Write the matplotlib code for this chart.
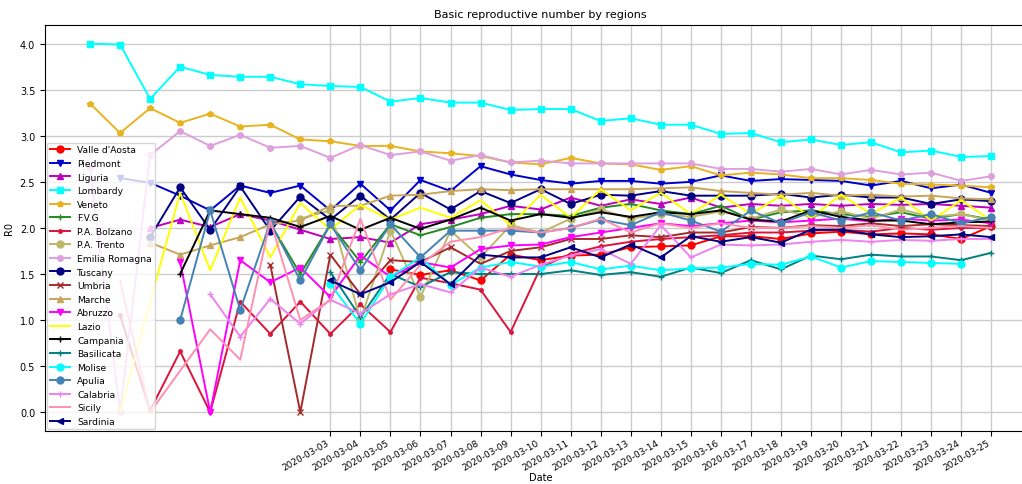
import numpy as np
import matplotlib.pyplot as plt

nan = np.nan

# Dates on the axis (data starts 2020-02-24, ticks only from 03-03)
tick_labels = ['2020-03-%02d' % d for d in range(3, 26)]
n_days = 31

valle = [nan]*10 + [1.55, 1.49, 1.54, 1.43, 1.71, 1.65, 1.70, 1.71, 1.79, 1.80, 1.81, 1.91, 1.91, 1.88, 1.94, 1.96, 1.93, 1.94, 1.93, 1.88, 2.02]
piedmont = [nan, 2.54, 2.49, 2.35, 2.19, 2.46, 2.38, 2.46, 2.19, 2.48, 2.19, 2.52, 2.40, 2.67, 2.58, 2.52, 2.48, 2.51, 2.51, 2.48, 2.50, 2.57, 2.51, 2.53, 2.52, 2.51, 2.46, 2.51, 2.43, 2.47, 2.38]
liguria = [nan, nan, 2.00, 2.09, 2.01, 2.15, 2.08, 1.98, 1.88, 1.90, 1.84, 2.04, 2.09, 2.15, 2.24, 2.20, 2.33, 2.24, 2.31, 2.26, 2.33, 2.22, 2.26, 2.24, 2.26, 2.24, 2.26, 2.25, 2.26, 2.24, 2.22]
lombardy = [4.00, 3.99, 3.40, 3.75, 3.66, 3.64, 3.64, 3.56, 3.54, 3.53, 3.37, 3.41, 3.36, 3.36, 3.28, 3.29, 3.29, 3.16, 3.19, 3.12, 3.12, 3.02, 3.03, 2.93, 2.96, 2.90, 2.93, 2.82, 2.84, 2.77, 2.78]
veneto = [3.35, 3.03, 3.30, 3.14, 3.24, 3.10, 3.12, 2.96, 2.94, 2.89, 2.89, 2.83, 2.81, 2.78, 2.71, 2.69, 2.76, 2.70, 2.69, 2.63, 2.67, 2.57, 2.60, 2.58, 2.54, 2.54, 2.52, 2.48, 2.47, 2.46, 2.44]
fvg = [nan]*6 + [2.05, 1.50, 2.04, 1.63, 2.04, 1.92, 2.01, 2.11, 2.15, 2.15, 2.13, 2.22, 2.26, 2.19, 2.15, 2.24, 2.09, 2.17, 2.19, 2.15, 2.12, 2.17, 2.10, 2.15, 2.09]
bolzano = [nan, 1.05, 0.02, 0.66, 0.00, 1.20, 0.85, 1.20, 0.85, 1.17, 0.87, 1.46, 1.40, 1.33, 0.87, 1.57, 1.72, 1.80, 1.85, 1.88, 1.90, 1.92, 1.95, 1.95, 1.97, 1.98, 1.96, 2.00, 1.98, 2.00, 2.00]
trento = [nan]*7 + [2.10, 2.19, 1.00, 1.97, 1.25, 1.97, 1.68, 2.03, 1.95, 2.10, 2.20, 2.10, 2.15, 2.12, 2.18, 2.10, 2.20, 2.12, 2.18, 2.10, 2.20, 2.12, 2.15, 2.08]
emilia = [2.65, 0.00, 2.79, 3.05, 2.89, 3.01, 2.87, 2.89, 2.76, 2.90, 2.79, 2.83, 2.73, 2.79, 2.71, 2.73, 2.70, 2.70, 2.70, 2.70, 2.70, 2.64, 2.64, 2.61, 2.64, 2.58, 2.63, 2.58, 2.60, 2.51, 2.56]
tuscany = [nan, nan, 1.90, 2.44, 1.98, 2.45, 1.97, 2.34, 2.09, 2.35, 2.09, 2.38, 2.20, 2.40, 2.27, 2.42, 2.26, 2.36, 2.35, 2.40, 2.35, 2.35, 2.35, 2.37, 2.33, 2.36, 2.33, 2.33, 2.26, 2.31, 2.29]
umbria = [nan]*6 + [1.60, 0.00, 1.71, 1.28, 1.65, 1.63, 1.79, 1.61, 1.75, 1.79, 1.88, 1.88, 1.92, 1.90, 1.95, 1.95, 2.01, 2.00, 2.03, 2.02, 2.05, 2.02, 2.04, 2.03, 2.02]
marche = [nan, nan, 1.84, 1.71, 1.81, 1.90, 2.04, 2.08, 2.24, 2.24, 2.35, 2.36, 2.40, 2.42, 2.41, 2.42, 2.42, 2.42, 2.42, 2.43, 2.44, 2.40, 2.38, 2.36, 2.38, 2.35, 2.36, 2.34, 2.35, 2.32, 2.31]
abruzzo = [nan, nan, nan, 1.63, 0.00, 1.65, 1.41, 1.57, 1.25, 1.70, 1.47, 1.63, 1.57, 1.77, 1.81, 1.82, 1.90, 1.95, 2.00, 2.05, 2.02, 2.05, 2.08, 2.06, 2.08, 2.10, 2.07, 2.10, 2.08, 2.09, 2.05]
lazio = [nan, 0.00, 1.20, 2.38, 1.54, 2.33, 1.68, 2.27, 1.98, 2.25, 2.09, 2.22, 2.11, 2.30, 2.03, 2.36, 2.11, 2.42, 2.19, 2.38, 2.15, 2.36, 2.15, 2.35, 2.11, 2.36, 2.15, 2.33, 2.08, 2.30, 2.08]
campania = [nan, nan, nan, 1.50, 2.19, 2.15, 2.11, 2.01, 2.13, 1.98, 2.11, 1.99, 2.09, 2.22, 2.08, 2.15, 2.11, 2.17, 2.12, 2.17, 2.15, 2.19, 2.09, 2.07, 2.19, 2.12, 2.08, 2.08, 2.04, 2.06, 2.07]
basilicata = [nan]*8 + [1.52, 1.03, 1.50, 1.36, 1.52, 1.50, 1.50, 1.50, 1.54, 1.49, 1.52, 1.47, 1.57, 1.51, 1.65, 1.55, 1.70, 1.66, 1.71, 1.69, 1.69, 1.65, 1.73]
molise = [nan]*8 + [1.39, 0.96, 1.47, 1.68, 1.38, 1.57, 1.63, 1.58, 1.63, 1.55, 1.59, 1.54, 1.56, 1.57, 1.61, 1.60, 1.69, 1.57, 1.64, 1.63, 1.62, 1.61, nan]
apulia = [nan, nan, nan, 1.00, 2.19, 1.11, 2.06, 1.43, 2.04, 1.54, 2.04, 1.68, 1.97, 1.97, 1.97, 1.95, 2.00, 2.09, 2.03, 2.17, 2.08, 1.96, 2.19, 2.05, 2.17, 2.08, 2.17, 2.08, 2.15, 2.05, 2.12]
calabria = [nan]*4 + [1.28, 0.82, 1.23, 0.96, 1.22, 1.07, 1.28, 1.39, 1.30, 1.57, 1.47, 1.60, 1.70, 1.77, 1.61, 2.03, 1.68, 1.82, 1.81, 1.82, 1.85, 1.87, 1.85, 1.87, 1.86, 1.88, 1.88]
sicily = [nan, 1.43, 0.00, 0.45, 0.90, 0.57, 2.08, 1.00, 1.22, 2.10, 1.22, 1.60, 1.85, 1.90, 2.00, 1.95, 2.00, 2.10, 1.95, 2.05, 2.00, 2.05, 2.00, 2.00, 2.02, 2.00, 2.03, 1.98, 2.00, 2.02, 2.00]
sardinia = [nan]*8 + [1.43, 1.28, 1.41, 1.63, 1.39, 1.71, 1.68, 1.68, 1.79, 1.68, 1.82, 1.68, 1.91, 1.85, 1.90, 1.84, 1.98, 1.98, 1.93, 1.90, 1.91, 1.93, 1.90]

# name, values, colour, marker
regions = [
    ("Valle d'Aosta", valle, 'red', 'o'),
    ('Piedmont', piedmont, 'mediumblue', 'v'),
    ('Liguria', liguria, 'm', '^'),
    ('Lombardy', lombardy, 'cyan', 's'),
    ('Veneto', veneto, '#e6b422', 'p'),
    ('F.V.G', fvg, 'forestgreen', '+'),
    ('P.A. Bolzano', bolzano, 'crimson', '.'),
    ('P.A. Trento', trento, 'darkkhaki', 'o'),
    ('Emilia Romagna', emilia, 'plum', 'o'),
    ('Tuscany', tuscany, 'navy', 'o'),
    ('Umbria', umbria, 'brown', 'x'),
    ('Marche', marche, '#c9a55a', '^'),
    ('Abruzzo', abruzzo, 'magenta', 'v'),
    ('Lazio', lazio, 'yellow', ''),
    ('Campania', campania, 'black', '+'),
    ('Basilicata', basilicata, 'teal', '+'),
    ('Molise', molise, 'cyan', 'o'),
    ('Apulia', apulia, 'steelblue', 'o'),
    ('Calabria', calabria, 'violet', '+'),
    ('Sicily', sicily, '#ff8fb0', ''),
    ('Sardinia', sardinia, 'navy', '<'),
]

fig = plt.figure(figsize=(10.22, 4.85), dpi=100)
ax = fig.add_axes([0.044, 0.11, 0.970, 0.836])

x = np.arange(n_days)
for name, vals, col, mk in regions:
    small = name in ('Veneto', 'Marche', 'Emilia Romagna')
    ax.plot(x, vals, color=col, marker=mk if mk else None, markersize=4 if small else 5,
            linewidth=1.4, label=name)

ax.set_xticks(np.arange(n_days - len(tick_labels), n_days))
ax.set_xticklabels(tick_labels, rotation=30, ha='right', fontsize=6.5)
ax.tick_params(axis='x', pad=2)
ax.tick_params(axis='y', labelsize=7)
ax.set_yticks(np.arange(0, 4.01, 0.5))
ax.grid(True, color='#cccccc', linewidth=1)
ax.set_axisbelow(True)

ax.set_title('Basic reproductive number by regions', fontsize=8)
ax.set_xlabel('Date', fontsize=7, labelpad=0)
ax.set_ylabel('R0', fontsize=7)
ax.legend(loc='lower left', fontsize=6.6, handlelength=2.2, labelspacing=0.5,
          borderaxespad=0.2, borderpad=0.3)

fig.savefig('out.png', dpi=100)
